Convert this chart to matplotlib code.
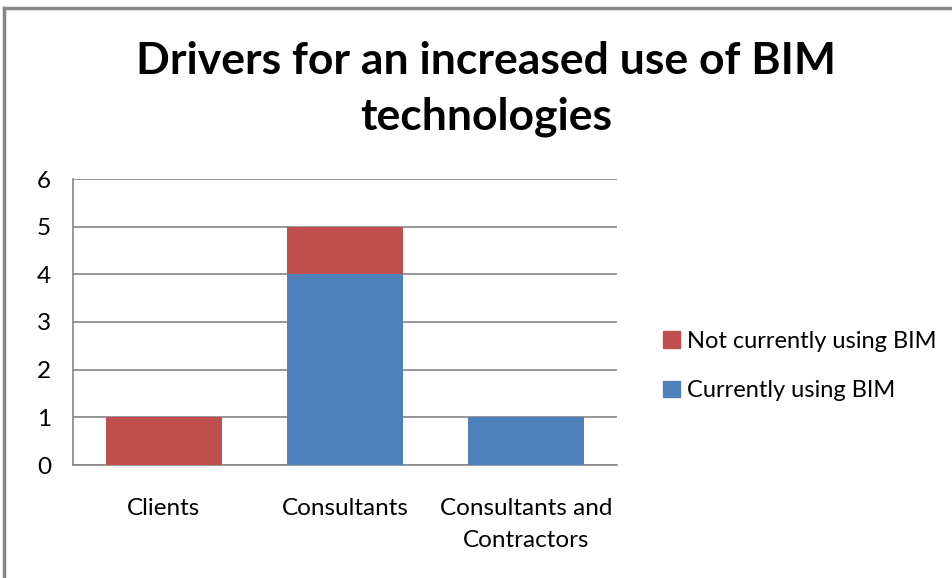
import matplotlib.pyplot as plt
from matplotlib.lines import Line2D
from matplotlib.patches import Patch

plt.rcParams['font.family'] = ['Lato', 'DejaVu Sans']

categories = ['Clients', 'Consultants', 'Consultants and\nContractors']
using_bim = [0, 4, 1]
not_using_bim = [1, 1, 0]

blue = '#4F81BD'
red = '#C0504D'
grey = '#868686'

W, H = 953, 578
fig = plt.figure(figsize=(W / 100, H / 100), dpi=100)

# plot area in pixel coordinates
x0, x1, y0, y1 = 73, 617, 465, 179
ax = fig.add_axes([x0 / W, 1 - y0 / H, (x1 - x0) / W, (y0 - y1) / H])

pos = range(len(categories))
ax.bar(pos, using_bim, width=0.64, color=blue, zorder=3)
ax.bar(pos, not_using_bim, width=0.64, bottom=using_bim, color=red, zorder=3)

ax.set_xlim(-0.5, 2.5)
ax.set_ylim(0, 6)
ax.set_yticks(range(7))
ax.set_xticks(list(pos))
ax.set_xticklabels(categories, fontsize=17.5, linespacing=1.6)
ax.tick_params(axis='y', length=0, labelsize=17.5, pad=26)
ax.tick_params(axis='x', length=0, pad=24)
for lab in ax.get_yticklabels():
    lab.set_horizontalalignment('left')

ax.grid(axis='y', color=grey, linewidth=1.2, zorder=0)
for s in ['top', 'right']:
    ax.spines[s].set_visible(False)
for s in ['left', 'bottom']:
    ax.spines[s].set_color(grey)
    ax.spines[s].set_linewidth(1.2)

fig.text(486 / W, 1 - 89 / H, 'Drivers for an increased use of BIM\ntechnologies',
         ha='center', va='center', fontsize=32, fontweight='bold', linespacing=1.45)

handles = [Patch(color=red), Patch(color=blue)]
fig.legend(handles, ['Not currently using BIM', 'Currently using BIM'],
           loc='center left', bbox_to_anchor=(642 / W, 1 - 366 / H), frameon=False,
           fontsize=17, handlelength=0.7, handleheight=0.7, handletextpad=0.3,
           labelspacing=1.2)

# chart border
fig.add_artist(Line2D([4 / W, 4 / W], [0, 1 - 8 / H], color=grey, linewidth=2.5))
fig.add_artist(Line2D([4 / W, 1], [1 - 8 / H, 1 - 8 / H], color=grey, linewidth=2.5))

fig.savefig('out.png', dpi=100)
